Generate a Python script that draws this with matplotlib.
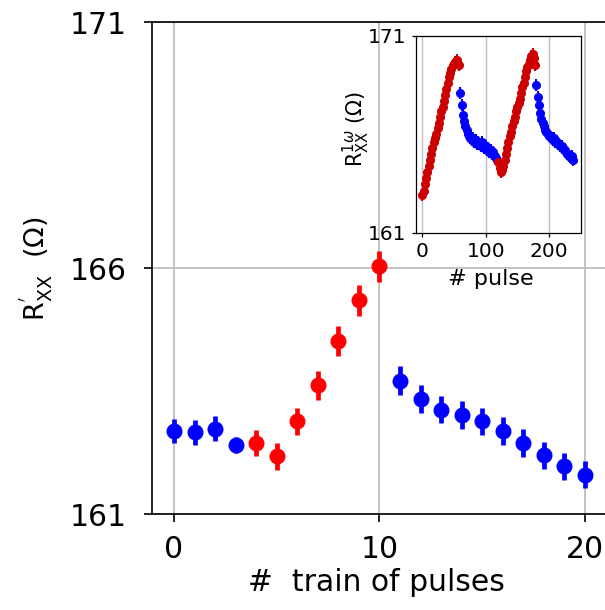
import numpy as np
import matplotlib
matplotlib.use('Agg')
import matplotlib.pyplot as plt

plt.rcParams['font.family'] = ['DejaVu Sans']
plt.rcParams['mathtext.fontset'] = 'dejavusans'

######## main data: train of pulses
train_blue1 = [0, 1, 2, 3]
r_blue1 = [162.69, 162.67, 162.74, 162.41]
err_blue1 = [0.24, 0.25, 0.25, 0.17]

train_red = [4, 5, 6, 7, 8, 9, 10]
r_red = [162.45, 162.18, 162.89, 163.62, 164.52, 165.35, 166.04]
err_red = [0.27, 0.27, 0.28, 0.29, 0.30, 0.31, 0.32]

train_blue2 = [11, 12, 13, 14, 15, 16, 17, 18, 19, 20]
r_blue2 = [163.72, 163.35, 163.13, 163.02, 162.89, 162.70, 162.45, 162.20, 161.98, 161.81]
err_blue2 = [0.29, 0.28, 0.28, 0.28, 0.28, 0.28, 0.28, 0.28, 0.27, 0.27]

######## inset data: single pulses
p_red1 = list(range(0, 60, 2))
r_red1 = [162.9, 163.1, 163.5, 163.8, 164.1, 164.4, 164.7, 165.0, 165.3, 165.6,
          165.8, 166.0, 166.3, 166.6, 166.9, 167.2, 167.4, 167.7, 168.0, 168.3,
          168.6, 168.9, 169.1, 169.3, 169.5, 169.6, 169.7, 169.8, 169.6, 169.5]

p_blu1 = list(range(60, 120, 2))
r_blu1 = [168.1, 167.5, 167.0, 166.7, 166.4, 166.2, 166.0, 165.9, 165.8, 165.7,
          165.8, 165.6, 165.7, 165.5, 165.6, 165.5, 165.4, 165.6, 165.4, 165.3,
          165.4, 165.2, 165.3, 165.1, 165.2, 165.0, 165.1, 164.9, 164.8, 164.7]

p_red2 = list(range(120, 180, 2))
r_red2 = [164.6, 164.3, 164.1, 164.2, 164.4, 164.7, 165.0, 165.3, 165.6, 165.9,
          166.1, 166.4, 166.7, 166.9, 167.2, 167.4, 167.6, 167.8, 168.1, 168.4,
          168.6, 168.9, 169.2, 169.4, 169.6, 169.8, 170.0, 170.1, 169.9, 169.5]

p_blu2 = list(range(180, 240, 2))
r_blu2 = [168.5, 167.9, 167.5, 167.1, 166.8, 166.6, 166.4, 166.2, 166.1, 166.0,
          165.9, 165.9, 165.8, 165.7, 165.8, 165.6, 165.6, 165.5, 165.5, 165.4,
          165.4, 165.3, 165.2, 165.2, 165.0, 165.0, 164.9, 164.8, 164.9, 164.7]

inset_err = 0.3

### figure
fig = plt.figure(figsize=(6.05, 6.10), dpi=100)
ax = fig.add_axes([0.2512, 0.1566, 0.7488, 0.8073])

kw = dict(fmt='o', ms=10.5, elinewidth=3.4, capsize=0, zorder=3)
ax.errorbar(train_blue1, r_blue1, yerr=err_blue1, color='#0000ff', **kw)
ax.errorbar(train_red, r_red, yerr=err_red, color='#ff0000', **kw)
ax.errorbar(train_blue2, r_blue2, yerr=err_blue2, color='#0000ff', **kw)

ax.set_xlim(-1.07, 20.98)
ax.set_ylim(161, 171)
ax.set_xticks([0, 10, 20])
ax.set_yticks([161, 166, 171])
ax.grid(True, color='#bebebe', lw=1.3)
ax.set_axisbelow(True)
ax.spines['right'].set_visible(False)
for s in ['left', 'top', 'bottom']:
    ax.spines[s].set_linewidth(1.2)
ax.tick_params(axis='y', direction='out', length=6, width=1.2, labelsize=21.5, pad=12)
ax.tick_params(axis='x', direction='out', length=6, width=1.2, labelsize=21.5, pad=9)
ax.set_xlabel('#  train of pulses', fontsize=21.5)
ax.xaxis.set_label_coords(0.495, -0.108)
ax.set_ylabel(r"R$^{'}_{\mathregular{XX}}$  ($\Omega$)", fontsize=19.5)
ax.yaxis.set_label_coords(-0.213, 0.5)

### inset
axin = fig.add_axes([0.6876, 0.6185, 0.2722, 0.3225])
kw2 = dict(fmt='o', ms=5.5, elinewidth=1.5, capsize=0, zorder=3)
axin.errorbar(p_red1, r_red1, yerr=inset_err, color='#cc0000', **kw2)
axin.errorbar(p_blu1, r_blu1, yerr=inset_err, color='#0000ff', **kw2)
axin.errorbar(p_red2, r_red2, yerr=inset_err, color='#cc0000', **kw2)
axin.errorbar(p_blu2, r_blu2, yerr=inset_err, color='#0000ff', **kw2)
axin.set_xlim(-10, 250)
axin.set_ylim(161, 171)
axin.set_xticks([0, 100, 200])
axin.set_yticks([161, 171])
axin.grid(True, axis='x', color='#bebebe', lw=1.0)
axin.set_axisbelow(True)
for s in axin.spines.values():
    s.set_linewidth(0.9)
axin.tick_params(axis='y', direction='out', length=3, width=0.9, labelsize=14.5, pad=4)
axin.tick_params(axis='x', direction='out', length=3, width=0.9, labelsize=14.5, pad=4)
axin.set_xlabel('# pulse', fontsize=16)
axin.xaxis.set_label_coords(0.454, -0.185)
axin.set_ylabel(r"R$^{1\omega}_{\mathregular{XX}}$ ($\Omega$)", fontsize=15)
axin.yaxis.set_label_coords(-0.265, 0.527)

fig.savefig('out.png', dpi=100)
